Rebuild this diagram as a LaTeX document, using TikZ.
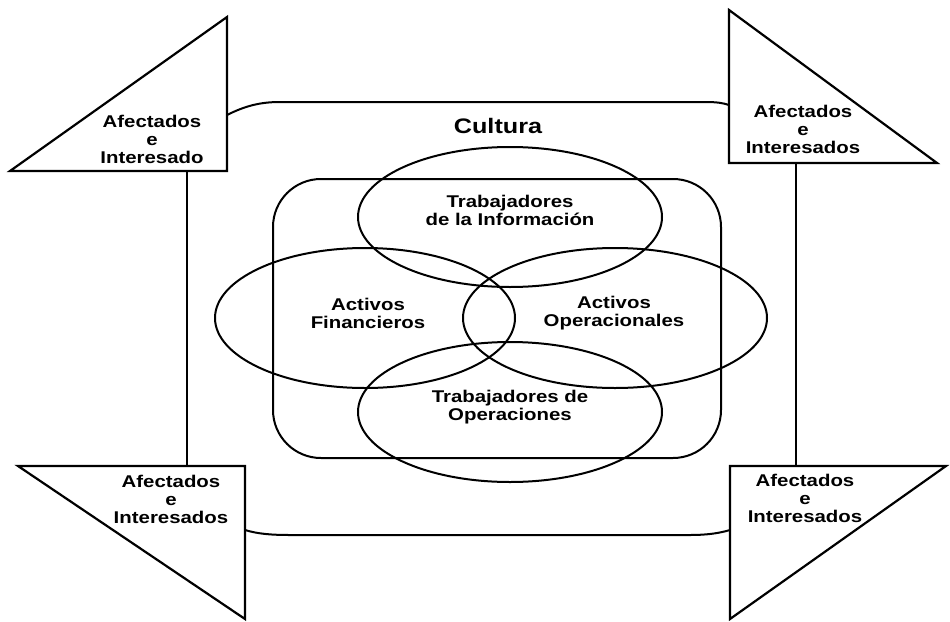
\documentclass[tikz,border=0pt]{standalone}
\usepackage{fontspec}
\newfontfamily\lab[FakeStretch=1.2]{Liberation Sans}
\begin{document}
\begin{tikzpicture}[x=1pt,y=-1pt]
\tikzset{
  ln/.style={line width=2pt, line join=miter},
  tri/.style={line width=2.2pt, line join=miter, fill=white},
  lbl/.style={font=\lab\bfseries\fontsize{17}{18}\selectfont, align=center, inner sep=0pt, anchor=north},
  big/.style={font=\lab\bfseries\fontsize{21}{24}\selectfont, inner sep=0pt, anchor=north},
}
\useasboundingbox (0,0) rectangle (950,621);
% triangle corners
\coordinate (tlA) at (10,171);  \coordinate (tlB) at (227,17);  \coordinate (tlC) at (227,171);
\coordinate (trA) at (729,10);  \coordinate (trB) at (729,163); \coordinate (trC) at (937,163);
\coordinate (blA) at (18,466);  \coordinate (blB) at (245,466); \coordinate (blC) at (245,619);
\coordinate (brA) at (730,466); \coordinate (brB) at (946,466); \coordinate (brC) at (730,619);
% connection points
\coordinate (tlV) at (187,171); \coordinate (blV) at (187,466);
\coordinate (trV) at (796,163); \coordinate (brV) at (796,466);
\coordinate (tlF) at (227,115); \coordinate (trF) at (729,105);
\coordinate (blF) at (245,530); \coordinate (brF) at (730,530);
% frame
\draw[ln] (tlF) .. controls (245,106) and (260,102) .. (280,102) -- (705,102) .. controls (717,102) and (723,103) .. (trF);
\draw[ln] (blF) .. controls (258,534) and (272,535) .. (290,535) -- (690,535) .. controls (708,535) and (720,533) .. (brF);
\draw[ln] (tlV) -- (blV);
\draw[ln] (trV) -- (brV);
% triangles
\draw[tri] (tlA) -- (tlB) -- (tlC) -- cycle;
\draw[tri] (trA) -- (trB) -- (trC) -- cycle;
\draw[tri] (blA) -- (blB) -- (blC) -- cycle;
\draw[tri] (brA) -- (brB) -- (brC) -- cycle;
% inner rounded rectangle
\draw[ln, rounded corners=48pt] (273,179) rectangle (721,458);
% ellipses
\draw[ln] (510,217) ellipse [x radius=152pt, y radius=70pt];
\draw[ln] (365,318) ellipse [x radius=150pt, y radius=70pt];
\draw[ln] (615,318) ellipse [x radius=152pt, y radius=70pt];
\draw[ln] (510,412) ellipse [x radius=152pt, y radius=70pt];
% labels
\node[lbl] (ltl) at (152,114.6) {Afectados\\e\\Interesado};
\node[lbl] (ltr) at (803,104.6) {Afectados\\e\\Interesados};
\node[lbl] (lbl1) at (171,474.6) {Afectados\\e\\Interesados};
\node[lbl] (lbr) at (805,473.6) {Afectados\\e\\Interesados};
\node[big] (cult) at (498,117.7) {Cultura};
\node[lbl] (ti) at (510,194.6) {Trabajadores\\de la Información};
\node[lbl] (af) at (368,297.6) {Activos\\Financieros};
\node[lbl] (ao) at (614,295.6) {Activos\\Operacionales};
\node[lbl] (to) at (510,389.6) {Trabajadores de\\Operaciones};
\end{tikzpicture}
\end{document}
